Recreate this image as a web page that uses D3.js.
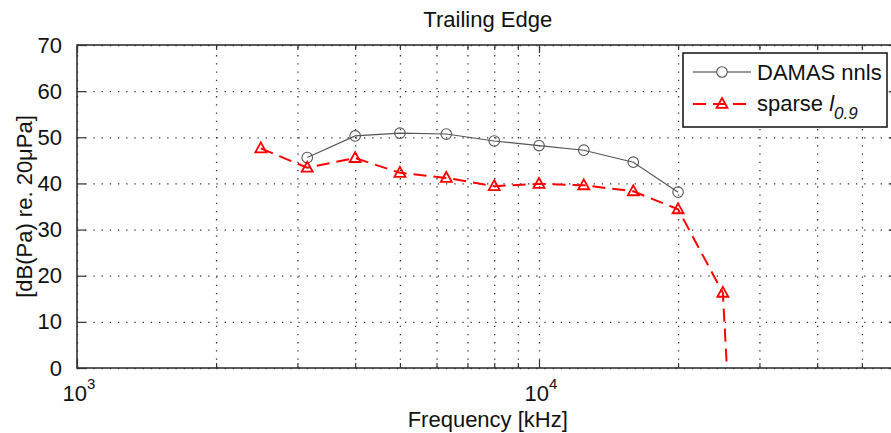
<!DOCTYPE html>
<html>
<head>
<meta charset="utf-8">
<script src="https://cdn.jsdelivr.net/npm/d3@7"></script>
<style>
  html, body { margin: 0; padding: 0; background: #fff; overflow: hidden; }
  svg { display: block; font-family: "Liberation Sans", Arial, Helvetica, sans-serif; }
</style>
</head>
<body>
<svg id="chart" width="891" height="433"></svg>
<script>
// ---- data ----
const title = "Trailing Edge";
const xLabel = "Frequency [kHz]";
const yLabel = "[dB(Pa) re. 20\u03BCPa]";
const damasFreq = [3150, 4000, 5000, 6300, 8000, 10000, 12500, 16000, 20000];
const damasVals = [45.6, 50.3, 50.9, 50.7, 49.2, 48.2, 47.2, 44.6, 38.1];
const sparseFreq = [2500, 3150, 4000, 5000, 6300, 8000, 10000, 12500, 16000, 20000, 25000, 31500];
const sparseVals = [47.6, 43.4, 45.5, 42.3, 41.2, 39.4, 39.9, 39.6, 38.3, 34.4, 16.3, -170];
const yTicks = [0, 10, 20, 30, 40, 50, 60, 70];
const xMajorTicks = [1000, 10000];
const xMinorTicks = [2000, 3000, 4000, 5000, 6000, 7000, 8000, 9000, 20000, 30000, 40000, 50000, 60000];
const xDomain = [1000, 60000];
const yDomain = [0, 70];
const legendLabels = ["DAMAS nnls", "sparse "];

// ---- layout ----
const svg = d3.select("#chart");
const L = 77, T = 45, B = 368;
const R = L + 462 * Math.log10(xDomain[1] / xDomain[0]);
const x = d3.scaleLog().domain(xDomain).range([L, R]);
const y = d3.scaleLinear().domain(yDomain).range([B, T]);
const axisColor = "#333";
const fontSize = 22;

svg.append("clipPath").attr("id", "clip")
  .append("rect").attr("x", L).attr("y", T).attr("width", R - L).attr("height", B - T);

// grid
const grid = svg.append("g");
const allX = xMajorTicks.concat(xMinorTicks);
grid.append("g").attr("transform", `translate(0,${B})`)
  .call(d3.axisBottom(x).tickValues(allX).tickSize(-(B - T)).tickFormat(() => ""))
  .call(g => g.select(".domain").remove())
  .call(g => g.selectAll("line").attr("stroke", "#333").attr("stroke-width", 1.3)
    .attr("stroke-dasharray", "1.3,6.9"));
grid.append("g").attr("transform", `translate(${L},0)`)
  .call(d3.axisLeft(y).tickValues(yTicks).tickSize(-(R - L)).tickFormat(() => ""))
  .call(g => g.select(".domain").remove())
  .call(g => g.selectAll("line").attr("stroke", "#333").attr("stroke-width", 1.3)
    .attr("stroke-dasharray", "1.3,6.9"));

// data
const plot = svg.append("g").attr("clip-path", "url(#clip)");
const damas = damasFreq.map((f, i) => [f, damasVals[i]]);
const sparse = sparseFreq.map((f, i) => [f, sparseVals[i]]);
const line = d3.line().x(d => x(d[0])).y(d => y(d[1]));

plot.append("path").datum(damas).attr("d", line)
  .attr("fill", "none").attr("stroke", "#555").attr("stroke-width", 1.1);
plot.selectAll("circle.d").data(damas).enter().append("circle")
  .attr("cx", d => x(d[0])).attr("cy", d => y(d[1])).attr("r", 5.3)
  .attr("fill", "none").attr("stroke", "#555").attr("stroke-width", 1.1);

plot.append("path").datum(sparse).attr("d", line)
  .attr("fill", "none").attr("stroke", "#ff0000").attr("stroke-width", 2)
  .attr("stroke-dasharray", "13,7");
const tri = (cx, cy, s) => {
  const h = s * 0.9;
  return `M${cx},${cy - h * 0.6}L${cx + s / 2},${cy + h * 0.4}L${cx - s / 2},${cy + h * 0.4}Z`;
};
plot.selectAll("path.t").data(sparse).enter().append("path")
  .attr("d", d => tri(x(d[0]), y(d[1]), 11))
  .attr("fill", "none").attr("stroke", "#ff0000").attr("stroke-width", 1.8);

// axes (MATLAB style: inward ticks, box)
const ax = svg.append("g");
ax.append("g").attr("transform", `translate(0,${B})`)
  .call(d3.axisBottom(x).tickValues(xMajorTicks).tickSizeInner(-8).tickSizeOuter(0).tickFormat(() => ""))
  .call(g => g.select(".domain").remove())
  .call(g => g.selectAll("line").attr("stroke", axisColor).attr("stroke-width", 1.2));
ax.append("g").attr("transform", `translate(0,${B})`)
  .call(d3.axisBottom(x).tickValues(xMinorTicks).tickSizeInner(-5).tickSizeOuter(0).tickFormat(() => ""))
  .call(g => g.select(".domain").remove())
  .call(g => g.selectAll("line").attr("stroke", axisColor).attr("stroke-width", 1.2));
ax.append("g").attr("transform", `translate(0,${T})`)
  .call(d3.axisTop(x).tickValues(xMajorTicks).tickSizeInner(-8).tickSizeOuter(0).tickFormat(() => ""))
  .call(g => g.select(".domain").remove())
  .call(g => g.selectAll("line").attr("stroke", axisColor).attr("stroke-width", 1.2));
ax.append("g").attr("transform", `translate(0,${T})`)
  .call(d3.axisTop(x).tickValues(xMinorTicks).tickSizeInner(-5).tickSizeOuter(0).tickFormat(() => ""))
  .call(g => g.select(".domain").remove())
  .call(g => g.selectAll("line").attr("stroke", axisColor).attr("stroke-width", 1.2));
ax.append("g").attr("transform", `translate(${L},0)`)
  .call(d3.axisLeft(y).tickValues(yTicks).tickSizeInner(-9).tickSizeOuter(0).tickPadding(15).tickFormat(d3.format("d")))
  .call(g => g.select(".domain").remove())
  .call(g => g.selectAll("line").attr("stroke", axisColor).attr("stroke-width", 1.2))
  .call(g => g.selectAll("text").attr("font-size", fontSize).attr("fill", "#111")
    .attr("font-family", "Liberation Sans, Arial, sans-serif"));
ax.append("g").attr("transform", `translate(${R},0)`)
  .call(d3.axisRight(y).tickValues(yTicks).tickSizeInner(-9).tickSizeOuter(0).tickFormat(() => ""))
  .call(g => g.select(".domain").remove())
  .call(g => g.selectAll("line").attr("stroke", axisColor).attr("stroke-width", 1.2));
ax.append("rect").attr("x", L).attr("y", T).attr("width", R - L).attr("height", B - T)
  .attr("fill", "none").attr("stroke", axisColor).attr("stroke-width", 1.6);

// x tick labels 10^n
xMajorTicks.forEach(v => {
  const e = Math.round(Math.log10(v));
  const t = svg.append("text").attr("x", x(v) + 2).attr("y", 401)
    .attr("text-anchor", "middle").attr("font-size", fontSize).attr("fill", "#111");
  t.append("tspan").text("10");
  t.append("tspan").attr("font-size", 15).attr("dy", -12).text(e);
});

// title & labels
svg.append("text").attr("x", (L + R) / 2).attr("y", 27).attr("text-anchor", "middle")
  .attr("font-size", fontSize).attr("fill", "#111").text(title);
svg.append("text").attr("x", (L + R) / 2).attr("y", 427).attr("text-anchor", "middle")
  .attr("font-size", fontSize).attr("fill", "#111").text(xLabel);
svg.append("text").attr("transform", `translate(32,${(T + B) / 2}) rotate(-90)`)
  .attr("text-anchor", "middle").attr("font-size", fontSize).attr("fill", "#111").text(yLabel);

// legend
const lg = svg.append("g");
lg.append("rect").attr("x", 683).attr("y", 53).attr("width", 204).attr("height", 74)
  .attr("fill", "#fff").attr("stroke", "#111").attr("stroke-width", 1.5);
lg.append("line").attr("x1", 693).attr("x2", 751).attr("y1", 72).attr("y2", 72)
  .attr("stroke", "#333").attr("stroke-width", 1.1);
lg.append("circle").attr("cx", 722).attr("cy", 72).attr("r", 5.3)
  .attr("fill", "#fff").attr("stroke", "#555").attr("stroke-width", 1.1);
lg.append("line").attr("x1", 693).attr("x2", 751).attr("y1", 104).attr("y2", 104)
  .attr("stroke", "#ff0000").attr("stroke-width", 2).attr("stroke-dasharray", "13,7");
lg.append("path").attr("d", tri(722, 104, 11))
  .attr("fill", "none").attr("stroke", "#ff0000").attr("stroke-width", 1.8);
lg.append("text").attr("x", 757).attr("y", 80).attr("font-size", fontSize).attr("fill", "#111")
  .text(legendLabels[0]);
const t2 = lg.append("text").attr("x", 757).attr("y", 111).attr("font-size", fontSize).attr("fill", "#111");
t2.append("tspan").text(legendLabels[1]);
t2.append("tspan").attr("font-style", "italic").text("l");
t2.append("tspan").attr("font-style", "italic").attr("font-size", 17).attr("dy", 8).text("0.9");
</script>
</body>
</html>
